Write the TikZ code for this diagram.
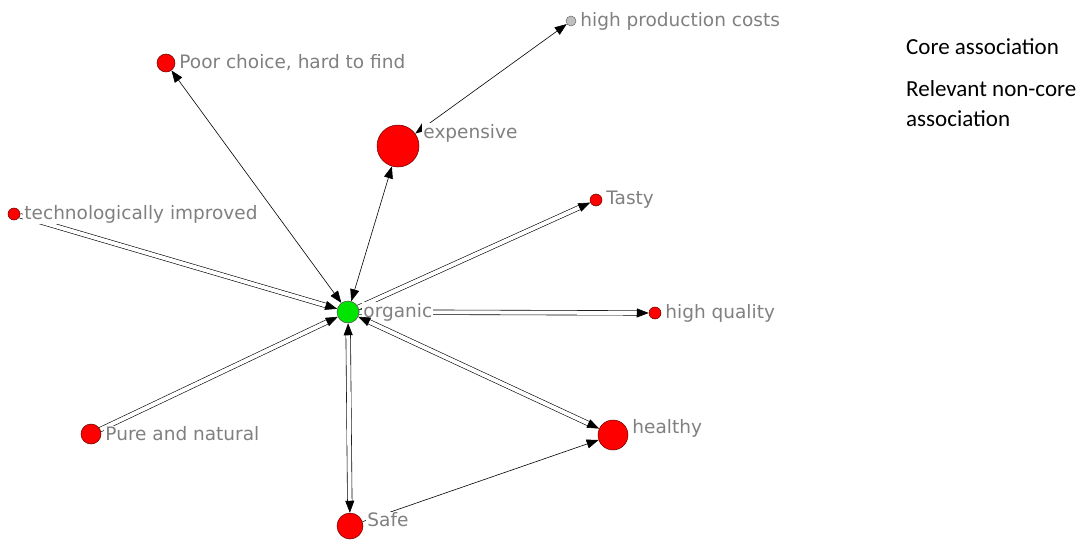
\documentclass[tikz,border=0pt]{standalone}
\usepackage{fontspec}
\setmainfont{DejaVu Sans}
\newfontfamily\legendfont{Carlito}
\usetikzlibrary{arrows.meta}
\usetikzlibrary{backgrounds}

\begin{document}
\begin{tikzpicture}[x = 1pt, y = -1pt,
	assoc/.style = {circle, draw = black!60!red, fill = red, inner sep = 0pt, line width = 0.5pt},
	lbl/.style = {text = black!50, font = \fontsize{18.5}{22}\selectfont, inner sep = 1pt, fill = white},
	single/.style = {black, line width = 0.6pt},
	twin/.style = {black, double, double distance = 4pt, line width = 0.6pt},
	legend/.style = {font = \legendfont\fontsize{23}{30}\selectfont, inner sep = 0pt, align = left},
	label distance = 3pt,
	>= {Triangle[length = 12pt, width = 9pt]}]
	\useasboundingbox (0, 0) rectangle (1088, 541);
	\node [assoc, fill = green!90!black, draw = black!70, minimum size = 22pt, label = {[lbl]right:organic}] (organic) at (348, 312) {};
	\node [assoc, minimum size = 42pt, label = {[lbl, yshift = 13pt]right:expensive}] (expensive) at (398, 146) {};
	\node [assoc, fill = black!25, draw = black!60, minimum size = 10pt, label = {[lbl]right:high production costs}] (costs) at (571, 21) {};
	\node [assoc, minimum size = 18pt, label = {[lbl]right:{Poor choice, hard to find}}] (poor) at (166, 63) {};
	\node [assoc, minimum size = 12pt, label = {[lbl]right:technologically improved}] (techno) at (14, 214) {};
	\node [assoc, minimum size = 12pt, label = {[lbl]right:Tasty}] (tasty) at (596, 200) {};
	\node [assoc, minimum size = 12pt, label = {[lbl]right:high quality}] (quality) at (655, 313) {};
	\node [assoc, minimum size = 30pt, label = {[lbl, yshift = 7pt]right:healthy}] (healthy) at (613, 435) {};
	\node [assoc, minimum size = 20pt, label = {[lbl]right:Pure and natural}] (pure) at (91, 434) {};
	\node [assoc, minimum size = 26pt, label = {[lbl, yshift = 6pt]right:Safe}] (safe) at (350, 526) {};
	\begin{scope}[on background layer]
		\draw [single, <->] (organic) -- (poor);
		\draw [single, <->] (organic) -- (expensive);
		\draw [single, <->] (expensive) -- (costs);
		\draw [single, ->] (safe) -- (healthy);
		\draw [twin, ->] (techno) -- (organic);
		\draw [twin, ->] (pure) -- (organic);
		\draw [twin, ->] (organic) -- (tasty);
		\draw [twin, ->] (organic) -- (quality);
		\draw [twin, <->] (organic) -- (safe);
	\end{scope}
	\draw [twin, <->] (organic) -- (healthy);
	\node [legend, anchor = base west] (core) at (906, 54) {Core association};
	\node [legend, anchor = north west] (noncore) at (906, 80) {Relevant non-core\\association};
\end{tikzpicture}
\end{document}
